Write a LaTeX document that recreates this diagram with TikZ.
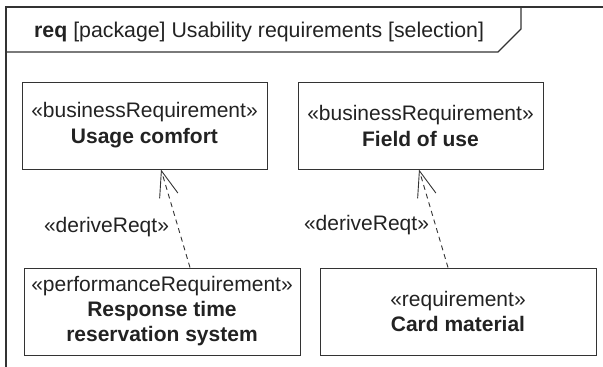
\documentclass[tikz,border=0pt]{standalone}
\usepackage{fontspec}
\setmainfont{Liberation Sans}
\usetikzlibrary{arrows.meta}
\definecolor{ink}{HTML}{222222}
\definecolor{edge}{HTML}{333333}
\tikzset{
  reqbox/.style={draw=edge, line width=1pt, rectangle, minimum width=#1, minimum height=87pt,
    inner sep=0pt, align=center, text=ink, font=\fontsize{21}{26}\selectfont},
  derive/.style={draw=edge, line width=0.9pt, dash pattern=on 5pt off 4pt,
    -{Straight Barb[length=26pt,width=19pt,line width=0.9pt,sep=0pt]}},
  lbl/.style={text=ink, inner sep=0pt, font=\fontsize{21}{25}\selectfont},
  frameline/.style={draw=edge, line width=1.1pt}
}
\begin{document}
\begin{tikzpicture}[x=1pt,y=-1pt]
\useasboundingbox (0,0) rectangle (603,367);
\draw[frameline] (603,7) -- (6,7) -- (6,367);
\draw[frameline] (6,52) -- (498,52) -- (521,29) -- (521,7);
\node[lbl, anchor=base west, font=\fontsize{21.3}{25}\selectfont] (title) at (34,37) {\textbf{req} [package] Usability requirements [selection]};
\node[reqbox=245pt] (b1) at (144.5,125.5) {«businessRequirement»\\\textbf{Usage comfort}};
\node[reqbox=245pt] (b2) at (420.5,125.5) {«businessRequirement»\\\textbf{Field of use}};
\node[reqbox=276pt, font=\fontsize{21}{25}\selectfont] (b3) at (162,311.5) {«performanceRequirement»\\\textbf{Response time}\\\textbf{reservation system}};
\node[reqbox=276pt, font=\fontsize{21}{25}\selectfont] (b4) at (458,311.5) {«requirement»\\\textbf{Card material}};
\draw[derive] ([xshift=28pt]b3.north) -- ([xshift=16.5pt]b1.south);
\draw[derive] ([xshift=-10pt]b4.north) -- ([xshift=-1.5pt]b2.south);
\node[lbl] (d1) at (106.5,227) {«deriveReqt»};
\node[lbl] (d2) at (366.5,225) {«deriveReqt»};
\end{tikzpicture}
\end{document}
